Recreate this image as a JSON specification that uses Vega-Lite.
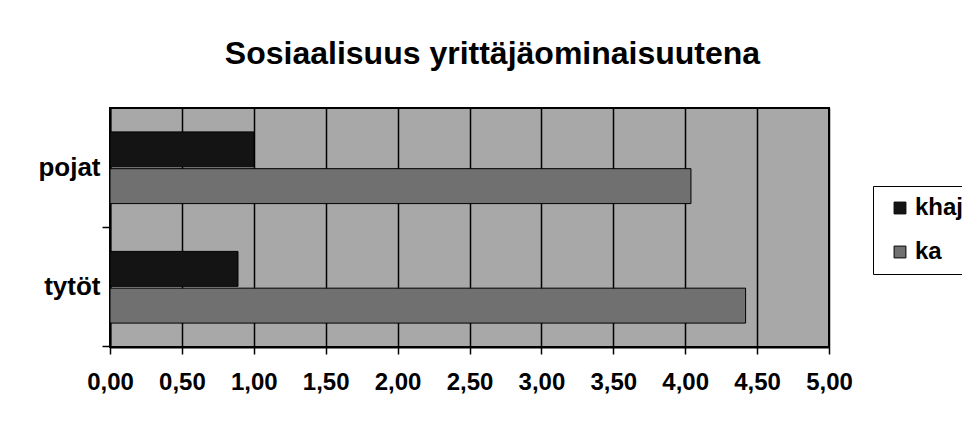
{
  "$schema": "https://vega.github.io/schema/vega-lite/v6.json",
  "width": 719,
  "height": 239,
  "autosize": "none",
  "padding": {"left": 110, "top": 108, "right": 133, "bottom": 76},
  "background": "white",
  "config": {
    "font": "Liberation Sans",
    "view": {"fill": "#a8a8a8", "stroke": "black", "strokeWidth": 2}
  },
  "title": {
    "text": "Sosiaalisuus yrittäjäominaisuutena",
    "fontSize": 32,
    "fontWeight": "bold",
    "color": "black",
    "anchor": "middle",
    "frame": "group",
    "dx": 23,
    "offset": 37
  },
  "data": {
    "values": [
      {"group": "pojat", "series": "khaj", "value": 1.0},
      {"group": "pojat", "series": "ka", "value": 4.04},
      {"group": "tytöt", "series": "khaj", "value": 0.89},
      {"group": "tytöt", "series": "ka", "value": 4.42}
    ]
  },
  "resolve": {"axis": {"y": "independent"}},
  "layer": [
    {
      "mark": {"type": "bar", "stroke": "black", "strokeWidth": 1},
      "encoding": {
        "y": {
          "field": "group",
          "type": "nominal",
          "sort": ["pojat", "tytöt"],
          "scale": {"paddingInner": 0.4, "paddingOuter": 0.2},
          "axis": {
            "title": null,
            "orient": "left",
            "ticks": false,
            "domain": true,
            "domainColor": "black",
            "domainWidth": 2,
            "labelFontSize": 26,
            "labelFontWeight": "bold",
            "labelColor": "black",
            "labelPadding": 10,
            "labelAngle": 0
          }
        },
        "yOffset": {
          "field": "series",
          "sort": ["khaj", "ka"],
          "scale": {"paddingInner": 0.05}
        },
        "x": {
          "field": "value",
          "type": "quantitative",
          "scale": {"domain": [0, 5], "nice": false},
          "axis": {
            "title": null,
            "values": [0, 0.5, 1, 1.5, 2, 2.5, 3, 3.5, 4, 4.5, 5],
            "labelExpr": "replace(format(datum.value, '.2f'), '.', ',')",
            "labelFontSize": 24,
            "labelFontWeight": "bold",
            "labelColor": "black",
            "labelFlush": false,
            "labelOverlap": false,
            "labelPadding": 16,
            "tickColor": "black",
            "tickSize": 7,
            "tickWidth": 1.5,
            "domainColor": "black",
            "domainWidth": 2,
            "grid": true,
            "gridColor": "black",
            "gridWidth": 1.5,
            "gridOpacity": 1
          }
        },
        "fill": {
          "field": "series",
          "type": "nominal",
          "scale": {"domain": ["khaj", "ka"], "range": ["#141414", "#707070"]},
          "legend": {
            "title": null,
            "orient": "none",
            "legendX": 763,
            "legendY": 78,
            "strokeColor": "black",
            "fillColor": "white",
            "padding": 10,
            "symbolType": "square",
            "symbolSize": 140,
            "symbolStrokeColor": "black",
            "symbolStrokeWidth": 1,
            "symbolOffset": 5,
            "labelOffset": 3,
            "labelFontSize": 24,
            "labelFontWeight": "bold",
            "labelColor": "black",
            "rowPadding": 20
          }
        }
      }
    },
    {
      "mark": {"type": "bar", "opacity": 0},
      "encoding": {
        "y": {
          "field": "group",
          "type": "nominal",
          "sort": ["pojat", "tytöt"],
          "axis": {
            "title": null,
            "orient": "left",
            "labels": false,
            "domain": false,
            "ticks": true,
            "bandPosition": 1.3333,
            "tickColor": "black",
            "tickSize": 8,
            "tickWidth": 1.5
          }
        },
        "yOffset": {"field": "series", "sort": ["khaj", "ka"]},
        "x": {
          "field": "value",
          "type": "quantitative",
          "axis": {
            "title": null,
            "values": [0, 0.5, 1, 1.5, 2, 2.5, 3, 3.5, 4, 4.5, 5],
            "labelExpr": "replace(format(datum.value, '.2f'), '.', ',')",
            "labelFontSize": 24,
            "labelFontWeight": "bold",
            "labelColor": "black",
            "labelFlush": false,
            "labelOverlap": false,
            "labelPadding": 16,
            "tickColor": "black",
            "tickSize": 7,
            "tickWidth": 1.5,
            "domainColor": "black",
            "domainWidth": 2,
            "grid": true,
            "gridColor": "black",
            "gridWidth": 1.5,
            "gridOpacity": 1
          }
        }
      }
    }
  ]
}
